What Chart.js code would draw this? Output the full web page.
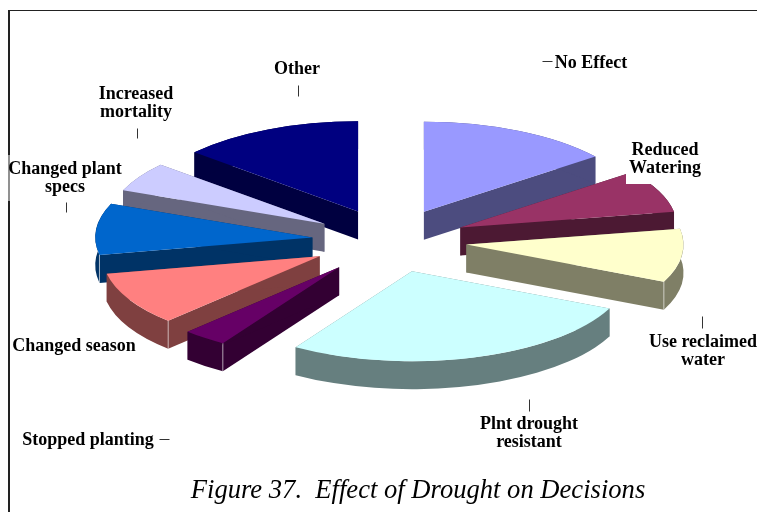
<!DOCTYPE html>
<html>
<head>
<meta charset="utf-8">
<style>
    html, body { margin: 0; padding: 0; background: #fff; overflow: hidden; }
    canvas { display: block; }
</style>
<script src="https://cdn.jsdelivr.net/npm/chart.js@4"></script>
</head>
<body>
<canvas id="droughtChart" width="757" height="512"></canvas>
<script>
// data, share of answers in percent
var categories = ['No Effect', 'Reduced Watering', 'Use reclaimed water', 'Plnt drought resistant', 'Stopped planting', 'Changed season', 'Changed plant specs', 'Increased mortality', 'Other'];
var shares = [14.5, 7.7, 9.6, 27.2, 3.3, 9.6, 9.2, 5.3, 13.6];
var topColors = ['#9999FF', '#993366', '#FFFFCC', '#CCFFFF', '#660066', '#FF8080', '#0066CC', '#CCCCFF', '#000080'];
var wallColors = ['#4C4C7F', '#4C1933', '#7F7F66', '#667F7F', '#330033', '#7F4040', '#003366', '#66667F', '#000040'];

// label text, one entry per line
var labelLines = [
    ['No Effect'],
    ['Reduced', 'Watering'],
    ['Use reclaimed', 'water'],
    ['Plnt drought', 'resistant'],
    ['Stopped planting'],
    ['Changed season'],
    ['Changed plant', 'specs'],
    ['Increased', 'mortality'],
    ['Other']
];
var figureCaption = 'Figure 37.  Effect of Drought on Decisions';

// layout of the labels: centre x, middle y of first line
var labelSpots = [[591, 63], [665, 150], [703, 342], [529, 424], [88, 440], [74, 346], [65, 169], [136, 94], [297, 69]];
// leader ticks x1, y1, x2, y2
var leaderTicks = [[542, 61, 552, 61], null, [702, 316, 702, 328], [529, 399, 529, 411], [159, 439, 169, 439], null, [66, 202, 66, 212], [137, 128, 137, 138], [298, 85, 298, 96]];

var squash = 0.415;     // tilt of the pie
var depth = 28;         // thickness on screen
// how far each slice is pulled out, front left ones go further
var explodeBy = [77, 77, 77, 77, 82, 80, 78, 77, 77];

function corner(arc, angle, dy) {
    return [arc.x + Math.cos(angle) * arc.outerRadius, arc.y + dy + Math.sin(angle) * arc.outerRadius];
}

// the two flat sides and the rim, filled one by one so there are no seams
function drawWall(ctx, arc, color) {
    var dy = depth / squash;
    var a = corner(arc, arc.startAngle, 0);
    var b = corner(arc, arc.endAngle, 0);

    ctx.fillStyle = color;
    [a, b].forEach(function (p) {
        ctx.beginPath();
        ctx.moveTo(arc.x, arc.y);
        ctx.lineTo(p[0], p[1]);
        ctx.lineTo(p[0], p[1] + dy);
        ctx.lineTo(arc.x, arc.y + dy);
        ctx.closePath();
        ctx.fill();
    });
    ctx.beginPath();
    ctx.arc(arc.x, arc.y, arc.outerRadius, arc.startAngle, arc.endAngle);
    ctx.arc(arc.x, arc.y + dy, arc.outerRadius, arc.endAngle, arc.startAngle, true);
    ctx.closePath();
    ctx.fill();

    // light edge where a flat side meets the rim at the front
    var front = [];
    if (Math.sin(arc.startAngle) > 0 && Math.sin(arc.startAngle - Math.PI / 2) > 0) front.push(a);
    if (Math.sin(arc.endAngle) > 0 && Math.sin(arc.endAngle + Math.PI / 2) > 0) front.push(b);
    front.forEach(function (p) {
        ctx.fillStyle = 'rgba(255,255,255,0.55)';
        ctx.fillRect(p[0] - 0.5, p[1], 1, dy);
    });
}

var pie3d = {
    id: 'pie3d',
    afterDatasetsUpdate: function (chart) {
        // pull each slice out from the centre
        chart.getDatasetMeta(0).data.forEach(function (arc, i) {
            var mid = (arc.startAngle + arc.endAngle) / 2;
            arc.x += Math.cos(mid) * explodeBy[i];
            arc.y += Math.sin(mid) * explodeBy[i];
        });
    },
    beforeDatasetsDraw: function (chart) {
        var ctx = chart.ctx;
        var cy = (chart.chartArea.top + chart.chartArea.bottom) / 2;
        var arcs = chart.getDatasetMeta(0).data.map(function (arc, i) {
            return { arc: arc, wall: wallColors[i] };
        });
        // back slices first
        arcs.sort(function (a, b) { return a.arc.y - b.arc.y; });

        ctx.save();
        ctx.translate(0, cy);
        ctx.scale(1, squash);
        ctx.translate(0, -cy);
        arcs.forEach(function (item) {
            drawWall(ctx, item.arc, item.wall);
            item.arc.draw(ctx);
        });
        ctx.restore();
        return false;
    },
    afterDraw: function (chart) {
        var ctx = chart.ctx;
        ctx.save();

        // frame, only top and left
        ctx.fillStyle = '#222';
        ctx.fillRect(8, 10, 749, 1);
        ctx.fillRect(8, 10, 2, 502);

        // white boxes behind the labels that sit on something
        ctx.fillStyle = '#fff';
        ctx.fillRect(626, 140, 80, 44);
        ctx.fillStyle = 'rgba(255,255,255,0.5)';
        ctx.fillRect(8, 155, 2, 46);

        ctx.strokeStyle = '#333';
        ctx.lineWidth = 1;
        leaderTicks.forEach(function (t) {
            if (!t) return;
            ctx.beginPath();
            ctx.moveTo(t[0] + 0.5, t[1] + 0.5);
            ctx.lineTo(t[2] + 0.5, t[3] + 0.5);
            ctx.stroke();
        });

        ctx.fillStyle = '#000';
        ctx.font = 'bold 18px "Liberation Serif"';
        ctx.textAlign = 'center';
        ctx.textBaseline = 'middle';
        labelLines.forEach(function (lines, i) {
            lines.forEach(function (line, n) {
                ctx.fillText(line, labelSpots[i][0], labelSpots[i][1] + n * 18);
            });
        });

        ctx.font = 'italic 26.6px "Liberation Serif"';
        ctx.fillText(figureCaption, 418, 491);
        ctx.restore();
    }
};

new Chart(document.getElementById('droughtChart').getContext('2d'), {
    type: 'pie',
    data: {
        labels: categories,
        datasets: [{
            data: shares,
            backgroundColor: topColors,
            borderWidth: 0
        }]
    },
    options: {
        responsive: false,
        animation: false,
        radius: 217,
        layout: { padding: { left: 23, bottom: 31 } },
        plugins: {
            legend: { display: false },
            tooltip: { enabled: false }
        }
    },
    plugins: [pie3d]
});
</script>
</body>
</html>
